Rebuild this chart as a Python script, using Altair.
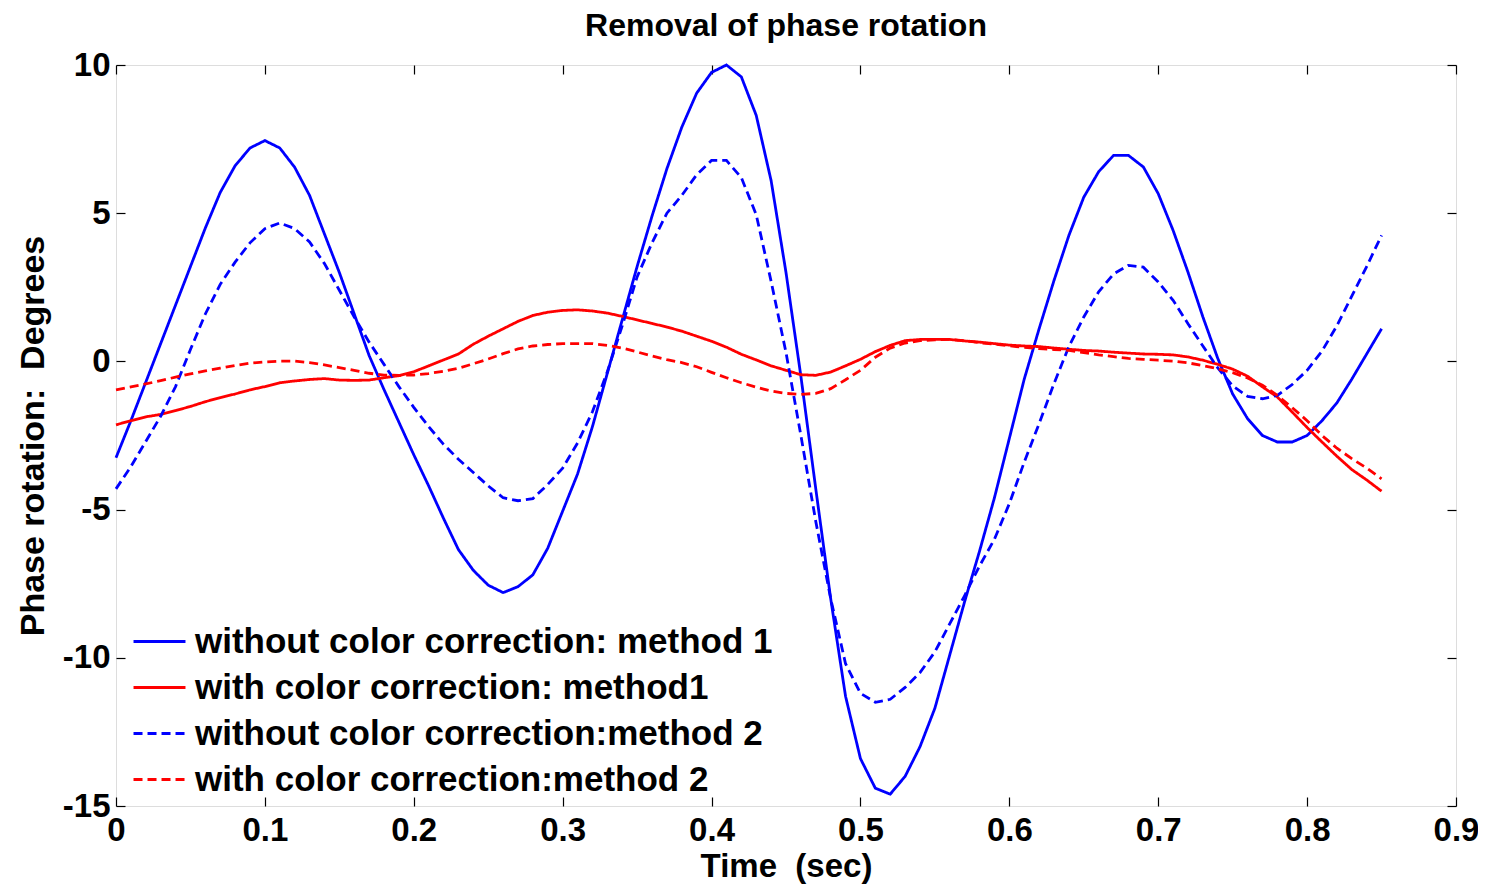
import altair as alt
import pandas as pd

time_s = [0.00, 0.01, 0.02, 0.03, 0.04, 0.05, 0.06, 0.07, 0.08, 0.09,
          0.10, 0.11, 0.12, 0.13, 0.14, 0.15, 0.16, 0.17, 0.18, 0.19,
          0.20, 0.21, 0.22, 0.23, 0.24, 0.25, 0.26, 0.27, 0.28, 0.29,
          0.30, 0.31, 0.32, 0.33, 0.34, 0.35, 0.36, 0.37, 0.38, 0.39,
          0.40, 0.41, 0.42, 0.43, 0.44, 0.45, 0.46, 0.47, 0.48, 0.49,
          0.50, 0.51, 0.52, 0.53, 0.54, 0.55, 0.56, 0.57, 0.58, 0.59,
          0.60, 0.61, 0.62, 0.63, 0.64, 0.65, 0.66, 0.67, 0.68, 0.69,
          0.70, 0.71, 0.72, 0.73, 0.74, 0.75, 0.76, 0.77, 0.78, 0.79,
          0.80, 0.81, 0.82, 0.83, 0.84, 0.85]

without_m1 = [-3.25, -2.0, -0.7, 0.6, 1.9, 3.2, 4.5, 5.7, 6.6, 7.2,
              7.45, 7.2, 6.55, 5.6, 4.3, 3.0, 1.6, 0.2, -0.95, -2.05,
              -3.15, -4.2, -5.3, -6.35, -7.05, -7.55, -7.8, -7.6, -7.2, -6.3,
              -5.05, -3.8, -2.2, -0.4, 1.4, 3.2, 4.9, 6.5, 7.9, 9.05,
              9.75, 10.0, 9.6, 8.3, 6.1, 3.0, -0.5, -4.3, -8.0, -11.3,
              -13.4, -14.4, -14.6, -14.0, -13.0, -11.7, -9.9, -8.1, -6.4, -4.6,
              -2.6, -0.6, 1.1, 2.73, 4.25, 5.54, 6.4, 6.95, 6.95, 6.56,
              5.66, 4.42, 3.01, 1.5, 0.1, -1.1, -1.93, -2.5, -2.72, -2.72,
              -2.5, -2.0, -1.4, -0.6, 0.25, 1.1]

with_m1 = [-2.14, -2.0, -1.87, -1.79, -1.66, -1.52, -1.36, -1.22, -1.1, -0.96,
           -0.85, -0.72, -0.66, -0.61, -0.58, -0.63, -0.64, -0.63, -0.55, -0.48,
           -0.35, -0.15, 0.05, 0.25, 0.58, 0.85, 1.1, 1.35, 1.55, 1.66,
           1.72, 1.74, 1.7, 1.63, 1.52, 1.4, 1.28, 1.16, 1.02, 0.85,
           0.68, 0.48, 0.24, 0.05, -0.15, -0.3, -0.45, -0.47, -0.36, -0.15,
           0.07, 0.33, 0.54, 0.7, 0.74, 0.74, 0.74, 0.69, 0.65, 0.6,
           0.55, 0.52, 0.5, 0.45, 0.41, 0.37, 0.35, 0.31, 0.28, 0.25,
           0.24, 0.22, 0.15, 0.04, -0.1, -0.26, -0.5, -0.86, -1.2, -1.71,
           -2.23, -2.72, -3.2, -3.65, -4.0, -4.38]

without_m2 = [-4.3, -3.55, -2.7, -1.85, -0.85, 0.4, 1.6, 2.6, 3.35, 4.0,
              4.48, 4.67, 4.48, 4.03, 3.3, 2.4, 1.5, 0.65, -0.1, -0.85,
              -1.55, -2.2, -2.8, -3.3, -3.75, -4.2, -4.6, -4.7, -4.63, -4.15,
              -3.6, -2.75, -1.7, -0.35, 1.2, 2.85, 4.0, 5.0, 5.6, 6.3,
              6.78, 6.78, 6.2, 4.95, 2.7, 0.3, -2.5, -5.4, -8.0, -10.2,
              -11.2, -11.5, -11.4, -11.0, -10.5, -9.8, -8.85, -7.9, -6.9, -6.0,
              -4.8, -3.4, -2.1, -0.75, 0.5, 1.5, 2.35, 2.95, 3.24, 3.18,
              2.68, 2.06, 1.27, 0.52, -0.22, -0.83, -1.18, -1.26, -1.15, -0.78,
              -0.3, 0.35, 1.2, 2.2, 3.2, 4.25]

with_m2 = [-0.96, -0.86, -0.76, -0.65, -0.53, -0.42, -0.32, -0.23, -0.14, -0.06,
           -0.02, 0.01, 0.01, -0.04, -0.12, -0.21, -0.3, -0.4, -0.46, -0.47,
           -0.46, -0.41, -0.33, -0.23, -0.08, 0.08, 0.26, 0.42, 0.52, 0.57,
           0.6, 0.6, 0.6, 0.54, 0.45, 0.32, 0.18, 0.06, -0.04, -0.18,
           -0.37, -0.55, -0.72, -0.87, -1.0, -1.08, -1.11, -1.08, -0.92, -0.62,
           -0.3, 0.14, 0.45, 0.62, 0.7, 0.73, 0.74, 0.7, 0.63, 0.58,
           0.53, 0.47, 0.43, 0.4, 0.37, 0.3, 0.22, 0.16, 0.1, 0.07,
           0.04, 0.01, -0.05, -0.14, -0.25, -0.38, -0.56, -0.8, -1.15, -1.56,
           -2.0, -2.5, -2.93, -3.28, -3.6, -3.96]

series_names = [
    "without color correction: method 1",
    "with color correction: method1",
    "without color correction:method 2",
    "with color correction:method 2",
]
series_values = [without_m1, with_m1, without_m2, with_m2]
series_colors = ["#0000ff", "#ff0000", "#0000ff", "#ff0000"]
series_dashes = [[1, 0], [1, 0], [9, 5], [9, 5]]

x_ticks = [0, 0.1, 0.2, 0.3, 0.4, 0.5, 0.6, 0.7, 0.8, 0.9]
y_ticks = [-15, -10, -5, 0, 5, 10]

rows = []
for name, vals in zip(series_names, series_values):
    for t, v in zip(time_s, vals):
        rows.append({"t": t, "v": v, "series": name})
df = pd.DataFrame(rows)

FONT = "Liberation Sans"
NBSP = "\u00a0"

x_scale = alt.Scale(domain=[0, 0.9], nice=False, zero=False)
y_scale = alt.Scale(domain=[-15, 10], nice=False, zero=False)

legend = alt.Legend(
    title=None, orient="none", legendX=16, legendY=549,
    symbolType="stroke", symbolSize=2700, symbolStrokeWidth=2.8,
    labelFont=FONT, labelFontSize=35, labelFontWeight="bold", labelColor="black",
    labelLimit=900, labelOffset=8, rowPadding=-9, padding=0,
)

lines = alt.Chart(df).mark_line(strokeWidth=2.8).encode(
    x=alt.X("t:Q", scale=x_scale, title="Time" + NBSP + " (sec)",
            axis=alt.Axis(orient="bottom", values=x_ticks, labelExpr="datum.value + ''",
                          domain=False, offset=-9, tickSize=9, tickWidth=1.2, tickColor="black",
                          labelPadding=8, labelFlush=False, labelOverlap=False,
                          labelFont=FONT, labelFontSize=33, labelFontWeight="bold", labelColor="black",
                          titleFont=FONT, titleFontSize=33, titleFontWeight="bold", titleColor="black",
                          titlePadding=3, grid=False)),
    y=alt.Y("v:Q", scale=y_scale, title="Phase rotation:" + NBSP + " Degrees",
            axis=alt.Axis(orient="left", values=y_ticks, labelExpr="datum.value + ''",
                          domain=False, offset=-9, tickSize=9, tickWidth=1.2, tickColor="black",
                          labelPadding=6, labelFlush=False, labelOverlap=False,
                          labelFont=FONT, labelFontSize=33, labelFontWeight="bold", labelColor="black",
                          titleFont=FONT, titleFontSize=34, titleFontWeight="bold", titleColor="black",
                          titlePadding=12, grid=False)),
    color=alt.Color("series:N", scale=alt.Scale(domain=series_names, range=series_colors),
                    sort=series_names, legend=legend),
    strokeDash=alt.StrokeDash("series:N", scale=alt.Scale(domain=series_names, range=series_dashes),
                              sort=series_names, legend=legend),
    order="t:Q",
)

mirror = alt.Chart(df).mark_point(opacity=0).encode(
    x=alt.X("t:Q", scale=x_scale, title=None,
            axis=alt.Axis(orient="top", values=x_ticks, labels=False, domain=False,
                          offset=-9, tickSize=9, tickWidth=1.2, tickColor="black", grid=False)),
    y=alt.Y("v:Q", scale=y_scale, title=None,
            axis=alt.Axis(orient="right", values=y_ticks, labels=False, domain=False,
                          offset=-9, tickSize=9, tickWidth=1.2, tickColor="black", grid=False)),
)

chart = alt.layer(lines, mirror).resolve_axis(x="independent", y="independent").properties(
    width=1340, height=741,
    padding={"left": 108, "top": 57, "right": 22, "bottom": 80},
    autosize=alt.AutoSizeParams(type="none"),
    title=alt.TitleParams("Removal of phase rotation", font=FONT, fontSize=32, fontWeight="bold",
                          color="black", anchor="middle", offset=6),
).configure_view(stroke="black", strokeWidth=1.6).configure(background="white")

chart.save("out.html", embed_options={"renderer": "svg", "actions": False})
